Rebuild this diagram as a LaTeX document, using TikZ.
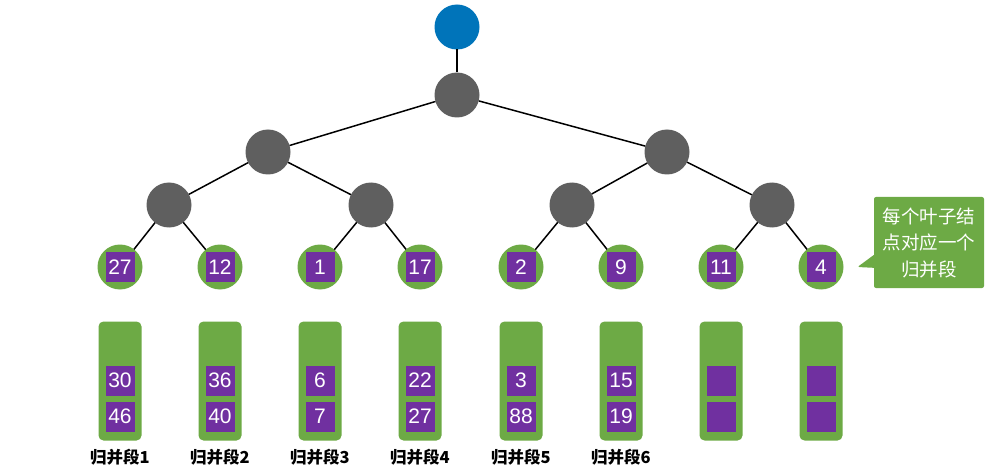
\documentclass[tikz,border=0pt]{standalone}
\usepackage{fontspec}
\setmainfont{Liberation Sans}
\newfontfamily\cjk{Noto Sans CJK SC}
\usetikzlibrary{positioning,shapes.callouts}
\definecolor{rootblue}{RGB}{0,116,186}
\definecolor{innergray}{RGB}{95,95,95}
\definecolor{leafgreen}{RGB}{109,170,69}
\definecolor{keypurple}{RGB}{112,48,160}
\tikzset{edge/.style={%
  line width=1.5pt,
  black,
  }
}
\tikzset{inner/.style={%
  circle,
  fill=innergray,
  minimum size=45pt,
  inner sep=0pt,
  outer sep=0pt,
  }
}
\tikzset{leaf/.style={%
  inner,
  fill=leafgreen,
  }
}
\tikzset{key/.style={%
  fill=keypurple,
  text=white,
  minimum width=29pt,
  minimum height=30pt,
  inner sep=0pt,
  outer sep=0pt,
  font=\fontsize{21}{21}\selectfont,
  }
}
\tikzset{run/.style={%
  fill=leafgreen,
  rounded corners=5pt,
  minimum width=43pt,
  minimum height=119pt,
  inner sep=0pt,
  outer sep=0pt,
  }
}
\tikzset{runlabel/.style={%
  inner sep=0pt,
  font=\cjk\bfseries\fontsize{16.5}{16.5}\selectfont,
  }
}
\begin{document}
\begin{tikzpicture}[x=1pt,y=-1pt]
  \useasboundingbox (0,0) rectangle (994,476);

  % tree
  \node (root) [inner, fill=rootblue] at (457,27) {};
  \node (top) [inner] at (457,95) {};
  \node (left) [inner] at (268,152) {};
  \node (right) [inner] at (667,152) {};
  \node (ll) [inner] at (169,205) {};
  \node (lr) [inner] at (371,205) {};
  \node (rl) [inner] at (572,205) {};
  \node (rr) [inner] at (772,205) {};

  \node (leaf1) [leaf] at (120,267) {};
  \node (leaf2) [leaf] at (220,267) {};
  \node (leaf3) [leaf] at (320,267) {};
  \node (leaf4) [leaf] at (420,267) {};
  \node (leaf5) [leaf] at (521,267) {};
  \node (leaf6) [leaf] at (621,267) {};
  \node (leaf7) [leaf] at (721,267) {};
  \node (leaf8) [leaf] at (821,267) {};

  \node (key1) [key] at (leaf1) {27};
  \node (key2) [key] at (leaf2) {12};
  \node (key3) [key] at (leaf3) {1};
  \node (key4) [key] at (leaf4) {17};
  \node (key5) [key] at (leaf5) {2};
  \node (key6) [key] at (leaf6) {9};
  \node (key7) [key] at (leaf7) {11};
  \node (key8) [key] at (leaf8) {4};

  \draw [edge] (root) -- (top);
  \draw [edge] (top) -- (left);
  \draw [edge] (top) -- (right);
  \draw [edge] (left) -- (ll);
  \draw [edge] (left) -- (lr);
  \draw [edge] (right) -- (rl);
  \draw [edge] (right) -- (rr);
  \draw [edge] (ll) -- (leaf1);
  \draw [edge] (ll) -- (leaf2);
  \draw [edge] (lr) -- (leaf3);
  \draw [edge] (lr) -- (leaf4);
  \draw [edge] (rl) -- (leaf5);
  \draw [edge] (rl) -- (leaf6);
  \draw [edge] (rr) -- (leaf7);
  \draw [edge] (rr) -- (leaf8);

  % runs
  \node (run1) [run, below=32pt of leaf1] {};
  \node (run2) [run, below=32pt of leaf2] {};
  \node (run3) [run, below=32pt of leaf3] {};
  \node (run4) [run, below=32pt of leaf4] {};
  \node (run5) [run, below=32pt of leaf5] {};
  \node (run6) [run, below=32pt of leaf6] {};
  \node (run7) [run, below=32pt of leaf7] {};
  \node (run8) [run, below=32pt of leaf8] {};

  \node (run1b) [key, above=9pt of run1.south] {46};
  \node (run1a) [key, above=6pt of run1b] {30};
  \node (run2b) [key, above=9pt of run2.south] {40};
  \node (run2a) [key, above=6pt of run2b] {36};
  \node (run3b) [key, above=9pt of run3.south] {7};
  \node (run3a) [key, above=6pt of run3b] {6};
  \node (run4b) [key, above=9pt of run4.south] {27};
  \node (run4a) [key, above=6pt of run4b] {22};
  \node (run5b) [key, above=9pt of run5.south] {88};
  \node (run5a) [key, above=6pt of run5b] {3};
  \node (run6b) [key, above=9pt of run6.south] {19};
  \node (run6a) [key, above=6pt of run6b] {15};
  \node (run7b) [key, above=9pt of run7.south] {};
  \node (run7a) [key, above=6pt of run7b] {};
  \node (run8b) [key, above=9pt of run8.south] {};
  \node (run8a) [key, above=6pt of run8b] {};

  \node (name1) [runlabel, below=8pt of run1] {归并段1};
  \node (name2) [runlabel, below=8pt of run2] {归并段2};
  \node (name3) [runlabel, below=8pt of run3] {归并段3};
  \node (name4) [runlabel, below=8pt of run4] {归并段4};
  \node (name5) [runlabel, below=8pt of run5] {归并段5};
  \node (name6) [runlabel, below=8pt of run6] {归并段6};

  % note
  \coordinate [right=14pt of leaf8] (tip);
  \node (note) [rectangle callout, callout absolute pointer={(tip)},
    callout pointer width=13pt, fill=leafgreen, rounded corners=2pt,
    minimum width=110pt, minimum height=91pt, inner sep=0pt,
    text=white, align=center,
    font=\cjk\fontsize{18.5}{26.5}\selectfont] at (929,242.5)
    {每个叶子结\\点对应一个\\归并段};
\end{tikzpicture}
\end{document}
